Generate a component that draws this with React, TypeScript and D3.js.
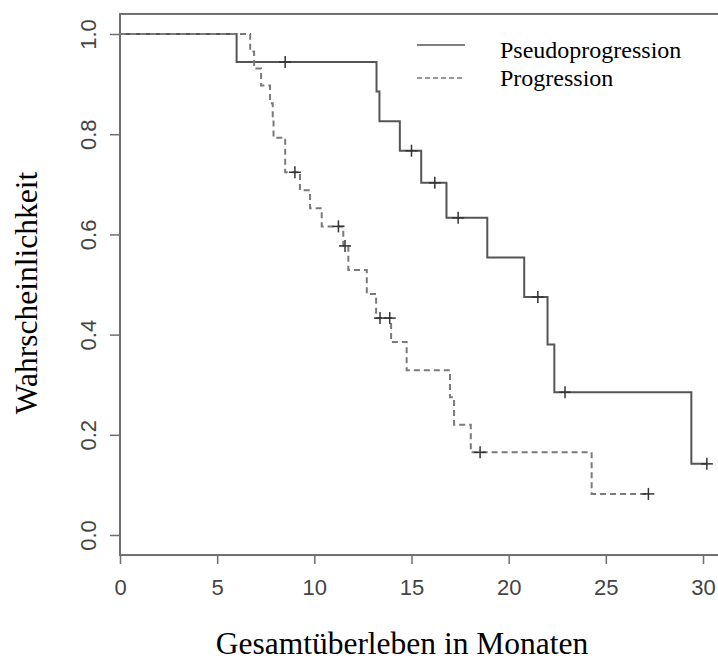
import { useEffect, useRef } from 'react';
import * as d3 from 'd3';

// Kaplan-Meier steps (months, survival)
const pseudoTimes = [0, 6.0, 13.2, 13.35, 14.4, 15.5, 16.8, 18.9, 20.8, 22.0, 22.35, 29.4];
const pseudoSurv = [1, 0.944, 0.885, 0.826, 0.767, 0.703, 0.633, 0.554, 0.475, 0.38, 0.285, 0.142];
const pseudoCensored = [8.5, 15.0, 16.2, 17.4, 21.5, 22.9, 30.2];

const progTimes = [0, 6.7, 6.9, 7.26, 7.72, 7.86, 7.9, 8.5, 9.26, 9.78, 10.38, 11.49, 11.75, 12.7, 13.18, 13.95, 14.75, 16.98, 17.19, 18.05, 24.27];
const progSurv = [1, 0.965, 0.931, 0.897, 0.862, 0.828, 0.793, 0.724, 0.688, 0.652, 0.616, 0.577, 0.529, 0.481, 0.433, 0.385, 0.329, 0.275, 0.22, 0.165, 0.082];
const progCensored = [9.0, 11.24, 11.58, 13.38, 13.88, 18.53, 27.19];

const xTicks = [0, 5, 10, 15, 20, 25, 30];
const yTicks = [0, 0.2, 0.4, 0.6, 0.8, 1.0];

const legendLabels = ['Pseudoprogression', 'Progression'];

const serif = "'Liberation Serif', 'Times New Roman', serif";
const sans = "'Liberation Sans', Arial, sans-serif";

const survAt = (times: number[], surv: number[], t: number) => {
  let s = surv[0];
  for (let i = 0; i < times.length; i++) if (times[i] <= t) s = surv[i];
  return s;
};

const App = () => {
  const svgRef = useRef<SVGSVGElement>(null);

  useEffect(() => {
    if (!svgRef.current) return;
    const svg = d3.select(svgRef.current);
    svg.selectAll('*').remove();

    const x = d3.scaleLinear().domain([0, 30]).range([120, 703]);
    const y = d3.scaleLinear().domain([0, 1]).range([535, 34]);

    // plot box (right side runs off the picture)
    svg.append('rect')
      .attr('x', x(0))
      .attr('y', y(1.04))
      .attr('width', x(31.3) - x(0))
      .attr('height', y(-0.04) - y(1.04))
      .attr('fill', 'none')
      .attr('stroke', '#6f6f6f')
      .attr('stroke-width', 2);

    const xAxis = svg.append('g')
      .attr('transform', `translate(0,${y(-0.04)})`)
      .call(d3.axisBottom(x).tickValues(xTicks).tickSize(9).tickFormat(d3.format('d')));
    xAxis.select('.domain').remove();
    xAxis.selectAll('line').attr('stroke', '#6f6f6f').attr('stroke-width', 1.5);
    xAxis.selectAll('text')
      .attr('y', 32)
      .attr('dy', null)
      .attr('dominant-baseline', 'central')
      .style('font-family', sans)
      .style('font-size', '22px')
      .style('fill', '#444');

    const yAxis = svg.append('g')
      .attr('transform', `translate(${x(0)},0)`)
      .call(d3.axisLeft(y).tickValues(yTicks).tickSize(10).tickFormat(d3.format('.1f')));
    yAxis.select('.domain').remove();
    yAxis.selectAll('line').attr('stroke', '#6f6f6f').attr('stroke-width', 1.5);
    yAxis.selectAll('text')
      .attr('x', 0)
      .attr('y', -32)
      .attr('dy', null)
      .attr('transform', 'rotate(-90)')
      .attr('text-anchor', 'middle')
      .attr('dominant-baseline', 'central')
      .style('font-family', sans)
      .style('font-size', '22px')
      .style('fill', '#444');

    const line = d3.line<[number, number]>()
      .x(d => x(d[0]))
      .y(d => y(d[1]))
      .curve(d3.curveStepAfter);

    const series = [
      { times: pseudoTimes, surv: pseudoSurv, cens: pseudoCensored, color: '#555', dash: null },
      { times: progTimes, surv: progSurv, cens: progCensored, color: '#7a7a7a', dash: '6,4' },
    ];

    series.forEach(s => {
      const last = d3.max(s.cens) as number;
      const pts: [number, number][] = s.times.map((t, i) => [t, s.surv[i]]);
      pts.push([last, s.surv[s.surv.length - 1]]);
      svg.append('path')
        .datum(pts)
        .attr('d', line)
        .attr('fill', 'none')
        .attr('stroke', s.color)
        .attr('stroke-width', 2)
        .attr('stroke-dasharray', s.dash);

      const marks = svg.append('g').attr('stroke', '#333').attr('stroke-width', 1.5);
      s.cens.forEach(t => {
        const cx = x(t);
        const cy = y(survAt(s.times, s.surv, t));
        marks.append('line').attr('x1', cx - 6).attr('x2', cx + 6).attr('y1', cy).attr('y2', cy);
        marks.append('line').attr('x1', cx).attr('x2', cx).attr('y1', cy - 6).attr('y2', cy + 6);
      });
    });

    // legend
    const legend = svg.append('g');
    legendLabels.forEach((label, i) => {
      const ly = [45, 78][i];
      legend.append('line')
        .attr('x1', 417).attr('x2', 465)
        .attr('y1', ly).attr('y2', ly)
        .attr('stroke', series[i].color)
        .attr('stroke-width', 1.5)
        .attr('stroke-dasharray', i === 1 ? '5,3' : null);
      legend.append('text')
        .attr('x', 500)
        .attr('y', [58, 86][i])
        .style('font-family', serif)
        .style('font-size', '24px')
        .style('fill', '#000')
        .text(label);
    });

    svg.append('text')
      .attr('x', 402)
      .attr('y', 654)
      .attr('text-anchor', 'middle')
      .style('font-family', serif)
      .style('font-size', '31.5px')
      .style('fill', '#000')
      .text('Gesamtüberleben in Monaten');

    svg.append('text')
      .attr('transform', 'translate(37,293) rotate(-90)')
      .attr('text-anchor', 'middle')
      .style('font-family', serif)
      .style('font-size', '31.5px')
      .style('fill', '#000')
      .text('Wahrscheinlichkeit');
  }, []);

  return (
    <svg
      ref={svgRef}
      width={718}
      height={663}
      style={{ position: 'absolute', left: 0, top: 0, background: '#fff' }}
    />
  );
};

export default App;
